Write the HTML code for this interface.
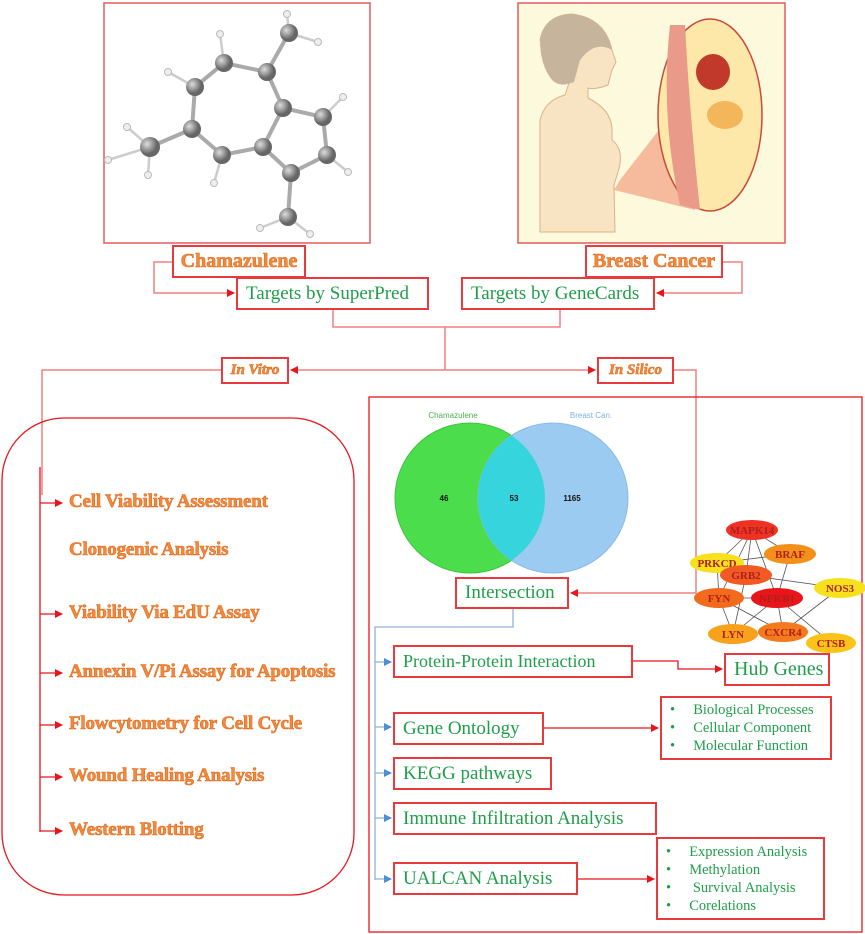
<!DOCTYPE html>
<html><head><meta charset="utf-8"><style>
body{margin:0;width:865px;height:934px;background:#fff;position:relative;overflow:hidden;font-family:"Liberation Serif",serif}
.b{position:absolute;border:2px solid #e8393c;box-sizing:border-box;background:#fff}
.g{color:#1f9e4a;font-size:19px;white-space:nowrap;display:flex;align-items:center;padding-left:8px}
.o{color:#f28a3c;font-weight:bold;-webkit-text-stroke:0.6px #e06a20;white-space:nowrap}
.it{position:absolute;left:69px;font-size:19px;letter-spacing:-0.2px}
.list{color:#1f9e4a;font-size:14.5px;line-height:18px}
</style></head><body>
<svg width="865" height="934" style="position:absolute;left:0;top:0">
<defs>
<marker id="ar" markerWidth="8" markerHeight="8" refX="7" refY="4" orient="auto" markerUnits="userSpaceOnUse"><path d="M0,0L8,4L0,8z" fill="#e8151b"/></marker>
<marker id="ab" markerWidth="8" markerHeight="8" refX="7" refY="4" orient="auto" markerUnits="userSpaceOnUse"><path d="M0,0L8,4L0,8z" fill="#4a8fd6"/></marker>
<radialGradient id="at" cx="35%" cy="35%"><stop offset="0" stop-color="#ddd"/><stop offset="1" stop-color="#666"/></radialGradient>
</defs>
<g fill="none" stroke="#f08080" stroke-width="1.5">
<polyline points="172,262 154,262 154,293 234,293" marker-end="url(#ar)"/>
<polyline points="722,262 742,262 742,293 657,293" marker-end="url(#ar)"/>
<polyline points="333,309 333,327 560,327 560,309"/>
<line x1="445" y1="327" x2="445" y2="370"/>
<line x1="445" y1="370" x2="291" y2="370" marker-end="url(#ar)"/>
<line x1="445" y1="370" x2="595" y2="370" marker-end="url(#ar)"/>
<polyline points="221,370 42,370 42,495"/>
<polyline points="673,370 696,370 696,593 571,593" marker-end="url(#ar)"/>
</g>
<g fill="none" stroke="#e8151b" stroke-width="1.3">
<line x1="40" y1="467" x2="40" y2="832"/>
<line x1="40" y1="503" x2="62" y2="503" marker-end="url(#ar)"/>
<line x1="40" y1="614" x2="62" y2="614" marker-end="url(#ar)"/>
<line x1="40" y1="673" x2="62" y2="673" marker-end="url(#ar)"/>
<line x1="40" y1="725" x2="62" y2="725" marker-end="url(#ar)"/>
<line x1="40" y1="777" x2="62" y2="777" marker-end="url(#ar)"/>
<line x1="40" y1="831" x2="62" y2="831" marker-end="url(#ar)"/>
<polyline points="632,661 678,661 678,669 722,669" marker-end="url(#ar)"/>
<line x1="543" y1="728" x2="658" y2="728" marker-end="url(#ar)"/>
<line x1="577" y1="879" x2="654" y2="879" marker-end="url(#ar)"/>
</g>
<rect x="2" y="418" width="352" height="477" rx="62" fill="none" stroke="#e8151b" stroke-width="1.3"/>
<rect x="369" y="397" width="493" height="535" fill="none" stroke="#e8151b" stroke-width="1.3"/>
<g fill="none" stroke="#8fb3d9" stroke-width="1.3">
<polyline points="513,609 513,627 375,627 375,880"/>
<line x1="375" y1="662" x2="391" y2="662" marker-end="url(#ab)"/>
<line x1="375" y1="727" x2="391" y2="727" marker-end="url(#ab)"/>
<line x1="375" y1="773" x2="391" y2="773" marker-end="url(#ab)"/>
<line x1="375" y1="818" x2="391" y2="818" marker-end="url(#ab)"/>
<line x1="375" y1="879" x2="391" y2="879" marker-end="url(#ab)"/>
</g>
<circle cx="470" cy="498" r="75" fill="#4cdd4c" stroke="#3cc43c"/>
<circle cx="553" cy="498" r="75" fill="#9ccbf2" stroke="#8ab9e6"/>
<clipPath id="cg"><circle cx="470" cy="498" r="75"/></clipPath>
<circle cx="553" cy="498" r="75" fill="#36d4dc" clip-path="url(#cg)"/>
<g font-family="Liberation Sans,sans-serif" font-size="8" text-anchor="middle">
<text x="453" y="418" fill="#4caf50">Chamazulene</text>
<text x="591" y="418" fill="#7fb0df">Breast Can.</text>
<g font-weight="bold" fill="#111"><text x="444" y="501">46</text><text x="514" y="501">53</text><text x="572" y="501">1165</text></g>
</g>
<g stroke="#555" stroke-width="0.8">
<line x1="752" y1="530" x2="717" y2="563"/><line x1="752" y1="530" x2="746" y2="575"/><line x1="752" y1="530" x2="777" y2="598"/><line x1="752" y1="530" x2="790" y2="554"/><line x1="752" y1="530" x2="719" y2="598"/>
<line x1="717" y1="563" x2="790" y2="554"/><line x1="717" y1="563" x2="719" y2="598"/><line x1="746" y1="575" x2="840" y2="588"/><line x1="746" y1="575" x2="733" y2="634"/><line x1="790" y1="554" x2="777" y2="598"/>
<line x1="719" y1="598" x2="783" y2="632"/><line x1="719" y1="598" x2="733" y2="634"/><line x1="777" y1="598" x2="733" y2="634"/><line x1="777" y1="598" x2="831" y2="643"/><line x1="840" y1="588" x2="783" y2="632"/><line x1="777" y1="598" x2="783" y2="632"/><line x1="719" y1="598" x2="777" y2="598"/>
</g>
<g font-size="11" font-weight="bold" fill="#b0201a" text-anchor="middle" font-family="Liberation Serif,serif">
<ellipse cx="752" cy="530" rx="26" ry="10" fill="#ee3325"/><text x="752" y="534">MAPK14</text>
<ellipse cx="790" cy="554" rx="26" ry="10" fill="#f3901a"/><text x="790" y="558">BRAF</text>
<ellipse cx="717" cy="563" rx="27" ry="10" fill="#f7e01c"/><text x="717" y="567">PRKCD</text>
<ellipse cx="746" cy="575" rx="26" ry="10" fill="#f15a22"/><text x="746" y="579">GRB2</text>
<ellipse cx="840" cy="588" rx="26" ry="10" fill="#f7e01c"/><text x="840" y="592">NOS3</text>
<ellipse cx="719" cy="598" rx="25" ry="10" fill="#f26b1d"/><text x="719" y="602">FYN</text>
<ellipse cx="777" cy="598" rx="26" ry="10" fill="#e8151b"/><text x="777" y="602">NFKB1</text>
<ellipse cx="733" cy="634" rx="25" ry="10" fill="#f8a21c"/><text x="733" y="638">LYN</text>
<ellipse cx="783" cy="632" rx="25" ry="10" fill="#f47a1e"/><text x="783" y="636">CXCR4</text>
<ellipse cx="831" cy="643" rx="25" ry="10" fill="#f9c31a"/><text x="831" y="647">CTSB</text>
</g>
<rect x="104" y="3" width="266" height="240" fill="#fff" stroke="#e05c5c" stroke-width="1.5"/>
<g stroke="#aaa" stroke-width="4" fill="none">
<polyline points="224,63 195,87 192,129 222,155 263,147 283,108 267,72 224,63"/>
<polyline points="283,108 323,117 327,155 291,173 263,147"/>
<line x1="267" y1="72" x2="289" y2="33"/><line x1="192" y1="129" x2="150" y2="147"/><line x1="291" y1="173" x2="288" y2="217"/>
</g>
<g stroke="#ccc" stroke-width="2.5">
<line x1="224" y1="63" x2="220" y2="34"/><line x1="195" y1="87" x2="168" y2="72"/><line x1="222" y1="155" x2="214" y2="183"/><line x1="323" y1="117" x2="343" y2="97"/><line x1="327" y1="155" x2="348" y2="172"/>
<line x1="289" y1="33" x2="287" y2="14"/><line x1="289" y1="33" x2="318" y2="42"/><line x1="150" y1="147" x2="127" y2="127"/><line x1="150" y1="147" x2="108" y2="160"/><line x1="150" y1="147" x2="148" y2="175"/><line x1="288" y1="217" x2="260" y2="228"/><line x1="288" y1="217" x2="310" y2="234"/>
</g>
<g fill="#eee" stroke="#bbb"><circle cx="220" cy="34" r="3.5"/><circle cx="168" cy="72" r="3.5"/><circle cx="214" cy="183" r="3.5"/><circle cx="343" cy="97" r="3.5"/><circle cx="348" cy="172" r="3.5"/><circle cx="287" cy="14" r="3.5"/><circle cx="318" cy="42" r="3.5"/><circle cx="127" cy="127" r="3.5"/><circle cx="108" cy="160" r="3.5"/><circle cx="148" cy="175" r="3.5"/><circle cx="260" cy="228" r="3.5"/><circle cx="310" cy="234" r="3.5"/></g>
<g fill="url(#at)"><circle cx="224" cy="63" r="9"/><circle cx="267" cy="72" r="9"/><circle cx="195" cy="87" r="9"/><circle cx="283" cy="108" r="9"/><circle cx="323" cy="117" r="9"/><circle cx="192" cy="129" r="9"/><circle cx="263" cy="147" r="9"/><circle cx="222" cy="155" r="9"/><circle cx="327" cy="155" r="9"/><circle cx="291" cy="173" r="9"/><circle cx="150" cy="147" r="10"/><circle cx="289" cy="33" r="9"/><circle cx="288" cy="217" r="9"/></g>
<rect x="518" y="3" width="267" height="240" fill="#fdf9dc" stroke="#e05c5c" stroke-width="1.5"/>
<path d="M540,232 L540,120 Q545,100 565,95 L570,80 Q548,65 540,40 Q545,15 572,14 Q605,18 612,50 L616,62 L612,70 L608,85 Q595,90 588,88 L588,98 Q612,110 612,130 L612,140 Q625,150 618,172 L614,185 L615,232 Z" fill="#f8e3c2" stroke="#d9b48a"/>
<path d="M540,40 Q545,15 572,14 Q605,18 612,50 Q595,40 580,60 L574,82 Q560,88 552,80 Q540,65 540,40Z" fill="#c6b59c"/>
<polygon points="614,190 620,180 690,90 695,210" fill="#f2a080" opacity="0.7"/>
<ellipse cx="710" cy="115" rx="52" ry="96" fill="#fde7a9" stroke="#c84c3a" stroke-width="1.5"/>
<path d="M670,25 Q660,115 680,205 L700,210 Q690,120 685,25Z" fill="#e99a88"/>
<ellipse cx="713" cy="72" rx="17" ry="18" fill="#c0392b"/>
<ellipse cx="725" cy="115" rx="18" ry="14" fill="#f4b65a"/>
</svg>
<div class="b o" style="left:172px;top:245px;width:134px;height:33px;font-size:20px;display:flex;align-items:center;justify-content:center">Chamazulene</div>
<div class="b o" style="left:585px;top:245px;width:138px;height:33px;font-size:20px;display:flex;align-items:center;justify-content:center">Breast Cancer</div>
<div class="b g" style="left:236px;top:277px;width:193px;height:33px">Targets by SuperPred</div>
<div class="b g" style="left:461px;top:277px;width:194px;height:33px">Targets by GeneCards</div>
<div class="b o" style="left:221px;top:357px;width:68px;height:27px;font-size:15px;font-style:italic;display:flex;align-items:center;justify-content:center">In Vitro</div>
<div class="b o" style="left:597px;top:357px;width:77px;height:27px;font-size:15px;font-style:italic;display:flex;align-items:center;justify-content:center">In Silico</div>
<div class="o it" style="top:491px">Cell Viability Assessment</div>
<div class="o it" style="top:539px">Clonogenic Analysis</div>
<div class="o it" style="top:602px">Viability Via EdU Assay</div>
<div class="o it" style="top:661px">Annexin V/Pi Assay for Apoptosis</div>
<div class="o it" style="top:713px">Flowcytometry for Cell Cycle</div>
<div class="o it" style="top:765px">Wound Healing Analysis</div>
<div class="o it" style="top:819px">Western Blotting</div>
<div class="b g" style="left:455px;top:577px;width:114px;height:32px">Intersection</div>
<div class="b g" style="left:393px;top:645px;width:240px;height:33px;font-size:18px">Protein-Protein Interaction</div>
<div class="b g" style="left:724px;top:653px;width:106px;height:33px;font-size:20px">Hub Genes</div>
<div class="b g" style="left:393px;top:712px;width:151px;height:33px">Gene Ontology</div>
<div class="b g" style="left:393px;top:757px;width:159px;height:33px">KEGG pathways</div>
<div class="b g" style="left:393px;top:802px;width:264px;height:33px">Immune Infiltration Analysis</div>
<div class="b g" style="left:393px;top:862px;width:185px;height:33px">UALCAN Analysis</div>
<div class="b list" style="left:660px;top:696px;width:172px;height:64px;padding:3px 0 0 8px">
<div>•&nbsp;&nbsp;&nbsp;&nbsp;&nbsp;Biological Processes</div><div>•&nbsp;&nbsp;&nbsp;&nbsp;&nbsp;Cellular Component</div><div>•&nbsp;&nbsp;&nbsp;&nbsp;&nbsp;Molecular Function</div></div>
<div class="b list" style="left:656px;top:837px;width:169px;height:83px;padding:4px 0 0 8px">
<div>•&nbsp;&nbsp;&nbsp;&nbsp;&nbsp;Expression Analysis</div><div>•&nbsp;&nbsp;&nbsp;&nbsp;&nbsp;Methylation</div><div>•&nbsp;&nbsp;&nbsp;&nbsp;&nbsp;&nbsp;Survival Analysis</div><div>•&nbsp;&nbsp;&nbsp;&nbsp;&nbsp;Corelations</div></div>
</body></html>
